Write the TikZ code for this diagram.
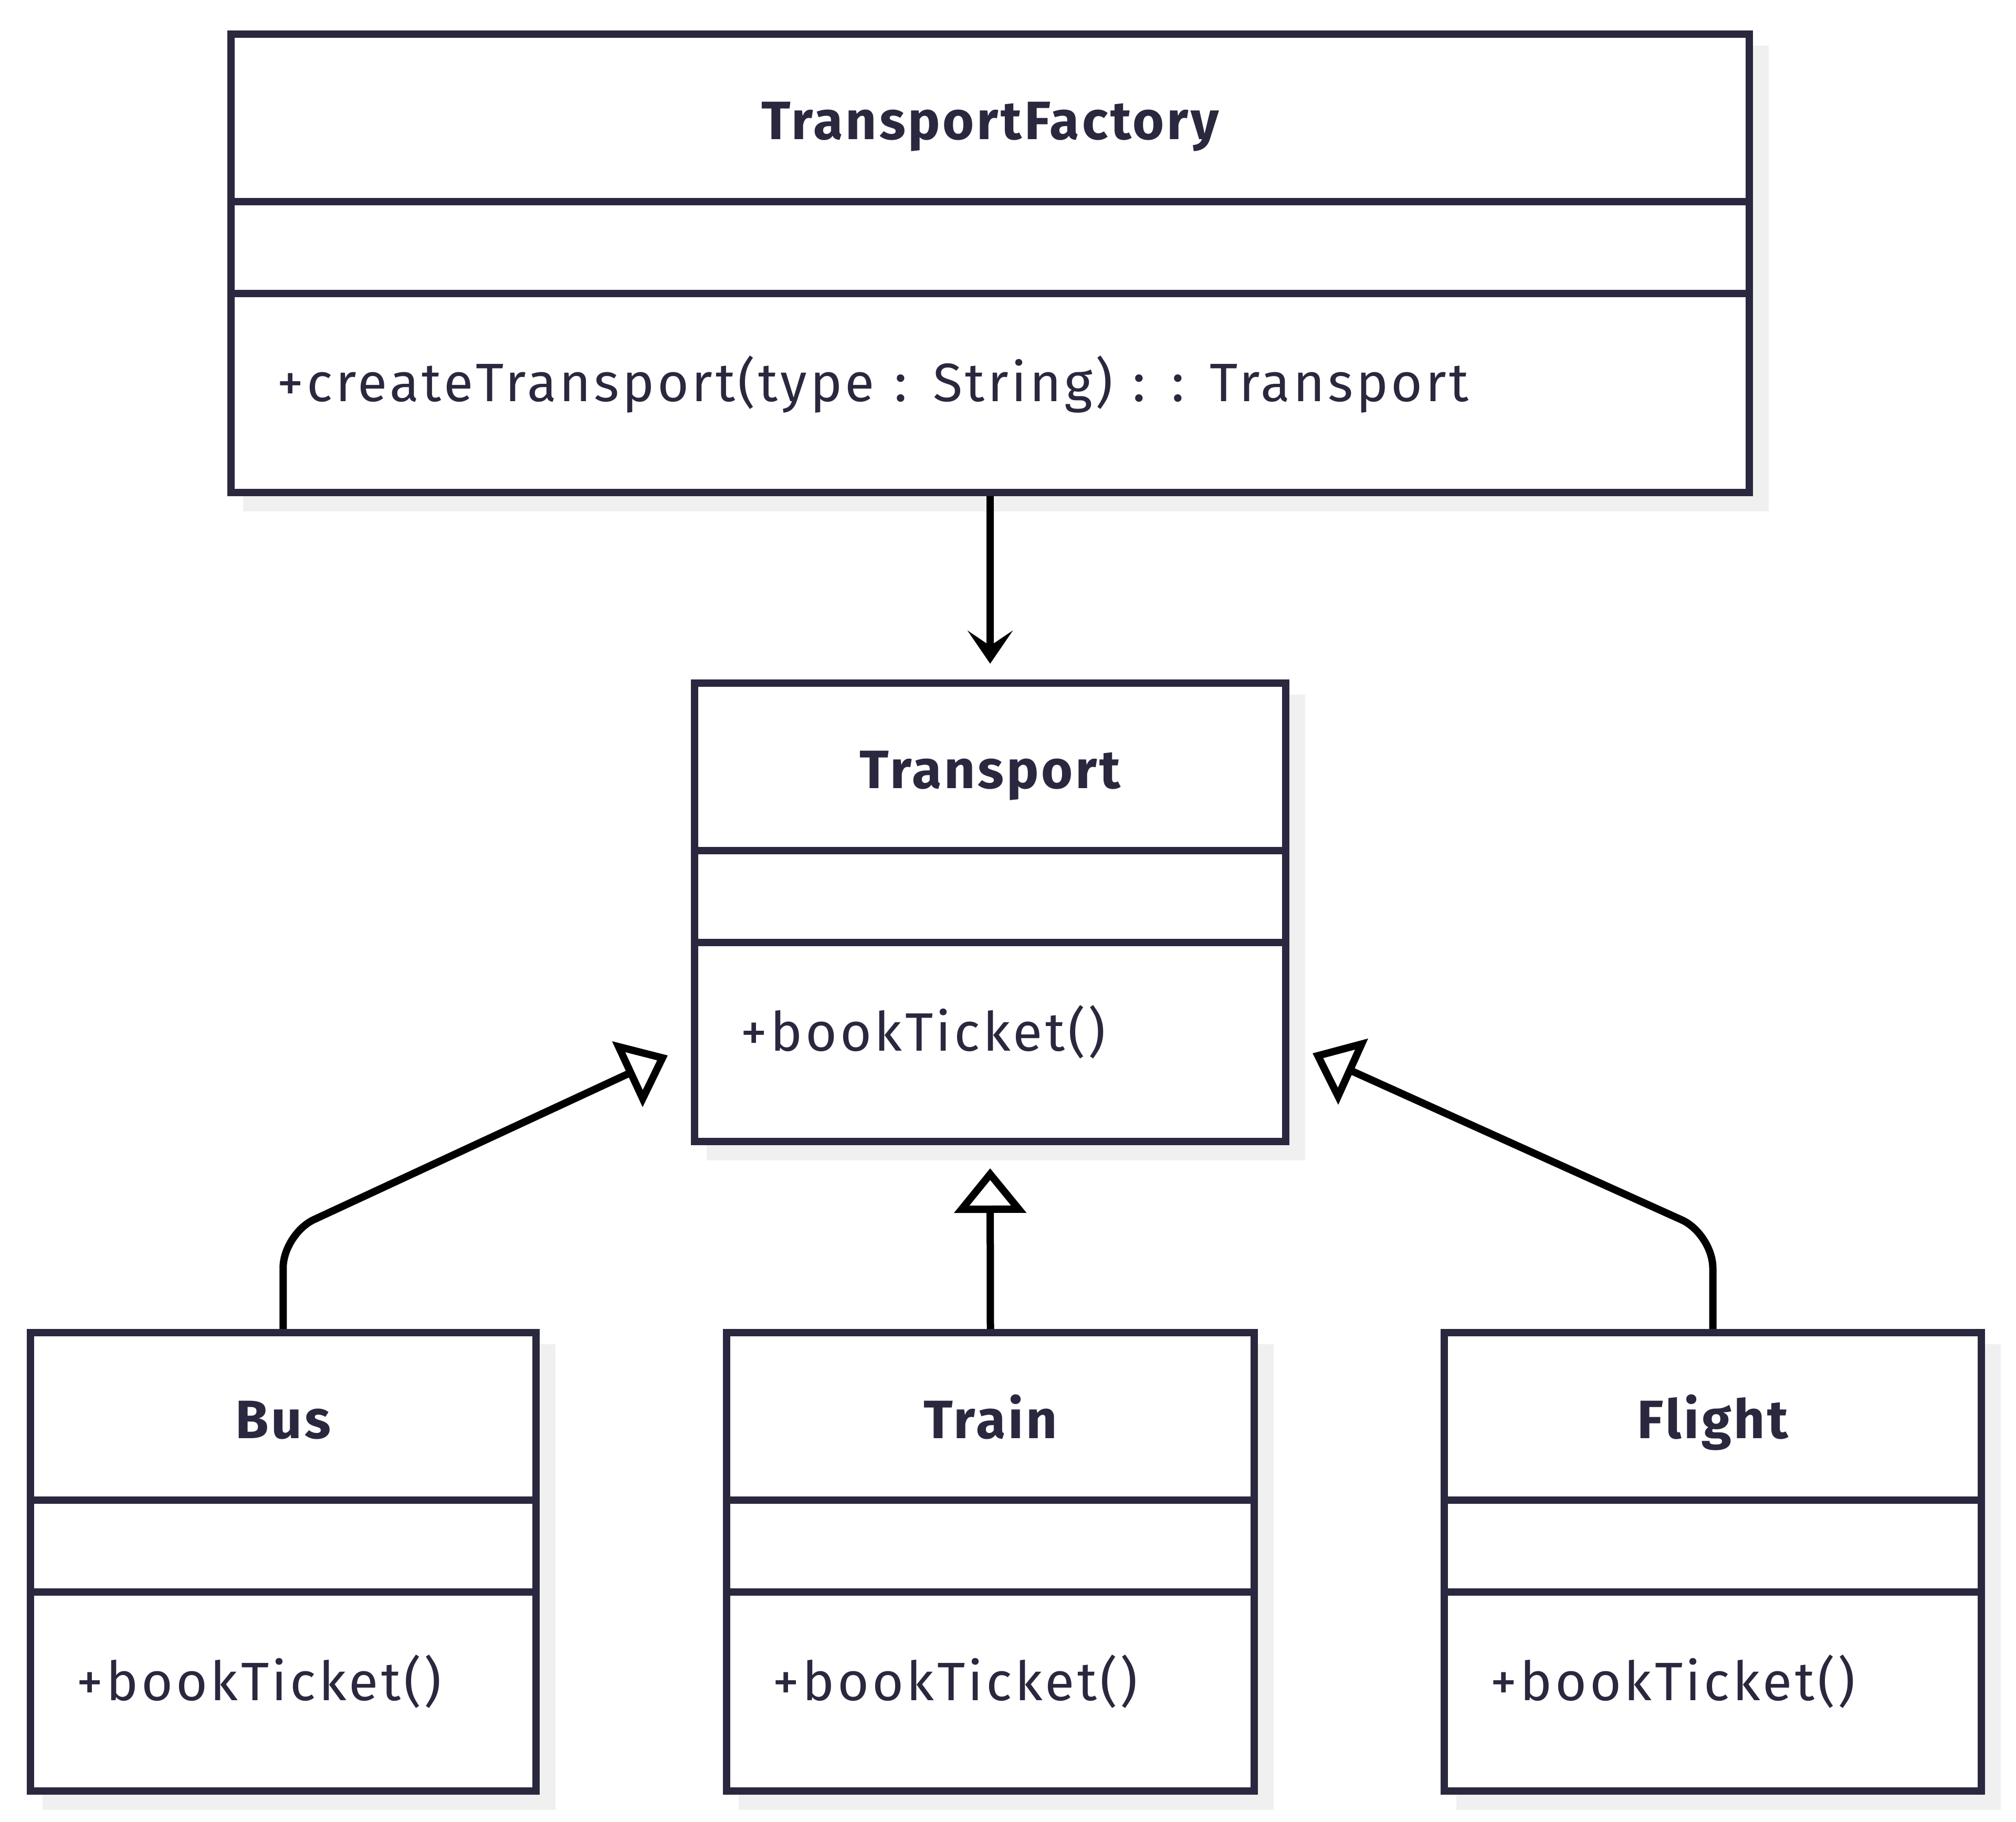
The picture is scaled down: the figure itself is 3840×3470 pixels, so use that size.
\documentclass[tikz,border=0pt]{standalone}
\usepackage{fontspec}
\setmainfont{Fira Sans}
\newfontfamily\memberfont{Fira Sans}[LetterSpace=5.4, WordSpace=1.15]
\newfontfamily\titlefont{Fira Sans}[LetterSpace=4.6]
\usetikzlibrary{arrows.meta,shadows}
\definecolor{boxc}{RGB}{41,40,62}
\definecolor{shadc}{RGB}{240,240,240}
\tikzset{
  classbox/.style={draw=boxc, line width=1.4mm, fill=white, rectangle, inner sep=0pt,
    general shadow={fill=shadc, draw=shadc, shadow xshift=3mm, shadow yshift=-2.9mm}},
  divider/.style={draw=boxc, line width=1.4mm},
  classtitle/.style={anchor=base, text=boxc, inner sep=0pt,
    font=\titlefont\fontsize{29.3pt}{35pt}\selectfont\bfseries},
  member/.style={anchor=base west, text=boxc, inner sep=0pt,
    font=\memberfont\fontsize{29.3pt}{35pt}\selectfont},
  conn/.style={draw=black, line width=1.4mm},
  realize/.style={-{Triangle[open, fill=white, length=8.5mm, width=13.5mm]}},
  assoc/.style={-{Stealth[length=6.3mm, width=8.6mm, inset=2.9mm]}},
}
% #1 name, #2 centre x, #3 top y, #4 width (mm), #5 title, #6 member
\newcommand\umlclass[6]{%
  \node[classbox, minimum width=#4, minimum height=87.3mm, anchor=north] (#1) at (#2,#3) {};
  \draw[divider] ([yshift=-32.6mm]#1.north west) -- ([yshift=-32.6mm]#1.north east);
  \draw[divider] ([yshift=-50.1mm]#1.north west) -- ([yshift=-50.1mm]#1.north east);
  \node[classtitle] (#1-t) at ([yshift=-20.8mm]#1.north) {#5};
  \node[member] (#1-m) at ([xshift=9.4mm, yshift=-70.7mm]#1.north west) {#6};
}
\begin{document}
\begin{tikzpicture}[x=0.1mm, y=-0.1mm]
  \useasboundingbox[fill=white] (0,0) rectangle (3840,3470);
  \umlclass{tf}{1886}{58}{289.2mm}{TransportFactory}{+createTransport(type : String) : : Transport}
  \umlclass{tr}{1886}{1294}{112.6mm}{Transport}{+bookTicket()}
  \umlclass{bus}{539.25}{2531}{96.25mm}{Bus}{+bookTicket()}
  \umlclass{train}{1886.5}{2531}{100.5mm}{Train}{+bookTicket()}
  \umlclass{flight}{3262.5}{2531}{102.3mm}{Flight}{+bookTicket()}

  \coordinate (tipTop) at (1886,1264);
  \coordinate (tipTrain) at (1886,2225);
  \coordinate (cBus) at (539.25,2350);
  \coordinate (tipBus) at (1272,2010);
  \coordinate (cFlight) at (3262.5,2350);
  \coordinate (tipFlight) at (2500,2006);

  \draw[conn, assoc] (tf.south) -- (tipTop);
  \draw[conn, realize] (train.north) -- (tipTrain);
  \draw[conn, realize, rounded corners=6.5mm] (bus.north) -- (cBus) -- (tipBus);
  \draw[conn, realize, rounded corners=6.5mm] (flight.north) -- (cFlight) -- (tipFlight);
\end{tikzpicture}
\end{document}
